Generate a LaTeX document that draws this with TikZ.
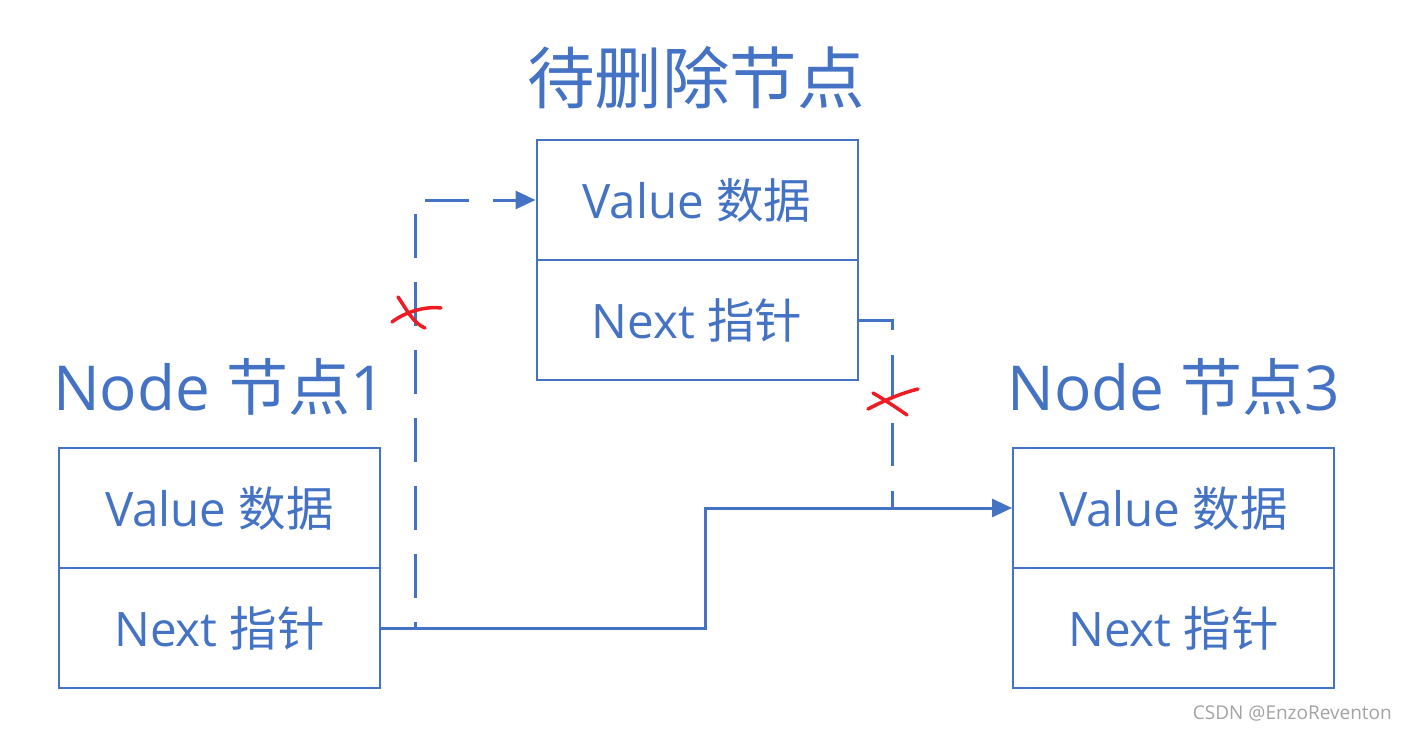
\documentclass[tikz,border=0pt]{standalone}
\usepackage{fontspec}
\setmainfont{Open Sans}
\newfontfamily\cjk{Noto Sans CJK SC}
\usetikzlibrary{arrows.meta}
\definecolor{ppblue}{HTML}{4472C4}
\definecolor{xred}{HTML}{EE1C25}
\definecolor{wmgray}{HTML}{A3A3A3}
\begin{document}
\begin{tikzpicture}[x=1pt,y=-1pt,
  cell/.style={draw=ppblue, line width=2pt, minimum width=321pt, minimum height=120pt,
    inner sep=0pt, text=ppblue, font=\fontsize{47.5}{56}\selectfont},
  headline/.style={text=ppblue, inner sep=0pt, anchor=base, font=\fontsize{62}{74}\selectfont},
  conn/.style={draw=ppblue, line width=3pt},
  tip/.style={-{Triangle[length=20pt,width=18pt]}},
  cross/.style={draw=xred, line width=3.5pt, line cap=round}]
\useasboundingbox (0,0) rectangle (1407,731);
\fill[white] (0,0) rectangle (1407,731);

% titles
\node[headline, font=\fontsize{67.5}{80}\selectfont] (t0) at (696,103) {\cjk 待删除节点};
\node[headline] (t1) at (219.5,410) {Node {\cjk 节点}1};
\node[headline] (t3) at (1173.5,410) {Node {\cjk 节点}3};

% boxes
\node[cell] (mv) at (697,200) {Value {\cjk 数据}};
\node[cell] (mn) at (697,320) {Next {\cjk 指针}};
\node[cell] (lv) at (219.5,508) {Value {\cjk 数据}};
\node[cell] (ln) at (219.5,628) {Next {\cjk 指针}};
\node[cell] (rv) at (1173.5,508) {Value {\cjk 数据}};
\node[cell] (rn) at (1173.5,628) {Next {\cjk 指针}};

% connectors
\coordinate (j1) at (705,568);
\coordinate (d1) at (415,628);
\coordinate (d2) at (892,508);
\draw[conn, tip] (ln.east) -| (j1) |- (rv.west);
\draw[conn, tip, dash pattern=on 44pt off 24pt, dash phase=38pt] (d1) |- (mv.west);
\draw[conn, dash pattern=on 43pt off 25pt] (mn.east) -| (d2);

% red crosses
\draw[cross] (392,322) .. controls (405,312) and (425,306) .. (441,308);
\draw[cross] (398,297) .. controls (407,310) and (413,323) .. (425,328);
\draw[cross] (868,409) .. controls (885,400) and (902,393) .. (918,389);
\draw[cross] (873,393) .. controls (885,400) and (897,408) .. (907,415);

% watermark
\node[text=wmgray, anchor=base east, inner sep=0pt, font=\fontsize{19}{22}\selectfont] (wm) at (1392,719) {CSDN @EnzoReventon};
\end{tikzpicture}
\end{document}
